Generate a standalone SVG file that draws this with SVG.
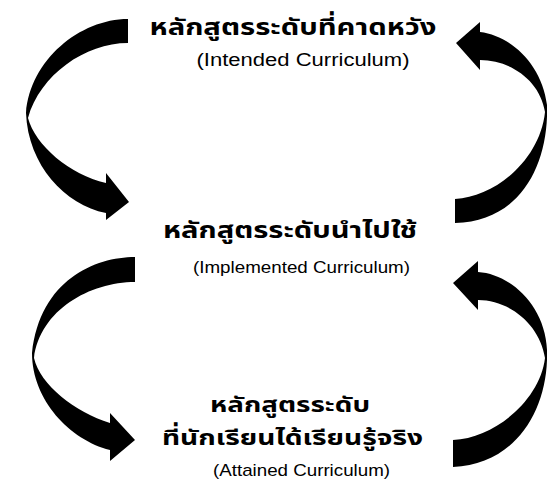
<svg xmlns="http://www.w3.org/2000/svg" width="547" height="502" viewBox="0 0 547 502">
<style>
.th{font-family:"Noto Sans Thai","Noto Sans","DejaVu Sans",sans-serif;font-weight:bold;fill:#000;text-anchor:middle;font-size:23px}
.en{font-family:"Liberation Sans","Noto Sans",sans-serif;fill:#000;text-anchor:middle}
.arrow{fill:#000;stroke:none}
</style>
<rect width="547" height="502" fill="#fff"/>
<g id="connectors">
<path class="arrow" d="M128,19 C80,19 30,60 26,113 C28,165 65,205 106,213 L106,220 L129,202 L106,173 L106,183 C70,175 35,145 28,118 C40,75 85,43 128,43 Z"/>
<path class="arrow" d="M135,257 C95,257 40,280 32,353 C32,400 70,440 110,450 L110,461 L135,440 L110,413 L110,423 C75,412 40,385 34,358 C40,310 90,282 135,282 Z"/>
<path class="arrow" d="M456,43 L480,22 L480,32 C512,36 542,65 547,105 C549,165 520,222 455,223 L455,199 C495,197 540,160 545,112 C540,80 510,60 480,60 L480,70 Z"/>
<path class="arrow" d="M453,283 L478,261 L478,272 C510,274 545,305 547,350 C549,410 515,465 453,467 L453,440 C495,438 540,400 545,358 C540,325 510,300 478,300 L478,310 Z"/>
</g>
<g id="intended">
<text class="th" x="293" y="35" textLength="287" lengthAdjust="spacingAndGlyphs">หลักสูตรระดับที่คาดหวัง</text>
<text class="en" x="303" y="66" font-size="18" textLength="213" lengthAdjust="spacingAndGlyphs">(Intended Curriculum)</text>
</g>
<g id="implemented">
<text class="th" x="290" y="238" textLength="254" lengthAdjust="spacingAndGlyphs">หลักสูตรระดับนำไปใช้</text>
<text class="en" x="301.5" y="273" font-size="17" textLength="217" lengthAdjust="spacingAndGlyphs">(Implemented Curriculum)</text>
</g>
<g id="attained">
<text class="th" x="290" y="412" style="font-size:22px" textLength="160" lengthAdjust="spacingAndGlyphs">หลักสูตรระดับ</text>
<text class="th" x="292.5" y="445" style="font-size:22px" textLength="261" lengthAdjust="spacingAndGlyphs">ที่นักเรียนได้เรียนรู้จริง</text>
<text class="en" x="301.5" y="476" font-size="17" textLength="177" lengthAdjust="spacingAndGlyphs">(Attained Curriculum)</text>
</g>
</svg>
